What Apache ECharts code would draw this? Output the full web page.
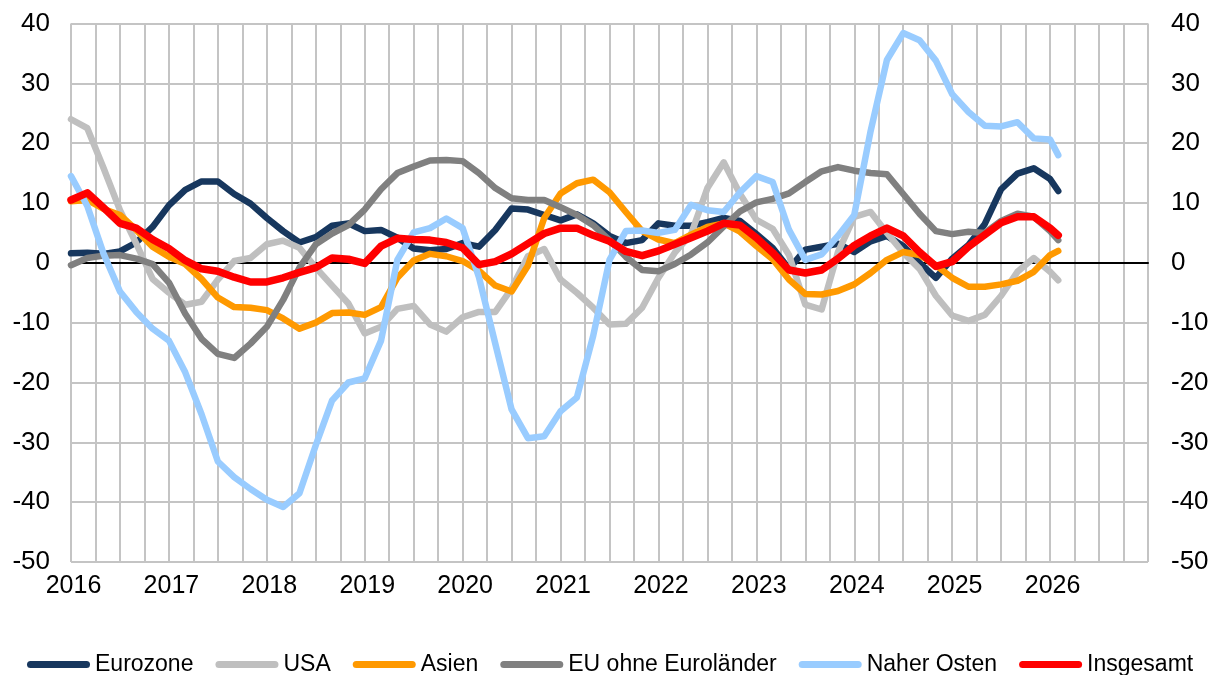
<!DOCTYPE html>
<html>
<head>
<meta charset="utf-8">
<script src="https://cdn.jsdelivr.net/npm/echarts@6/dist/echarts.min.js"></script>
<style>
html,body{margin:0;padding:0;background:#fff;}
#chart{width:1223px;height:675px;}
</style>
</head>
<body>
<div id="chart"></div>
<script>
// month index since Jan 2016
const months = [0,2,4,6,8,10,12,14,16,18,20,22,24,26,28,30,32,34,36,38,40,42,44,46,48,50,52,54,56,58,60,62,64,66,68,70,72,74,76,78,80,82,84,86,88,90,92,94,96,98,100,102,104,106,108,110,112,114,116,118,120,121];
const yearLabels = ['2016','2017','2018','2019','2020','2021','2022','2023','2024','2025','2026'];
const seriesNames = ['Eurozone','USA','Asien','EU ohne Euroländer','Naher Osten','Insgesamt'];

const eurozone = [1.6,1.7,1.5,1.9,3.4,6.0,9.6,12.2,13.6,13.6, 11.5,9.9,7.5,5.3,3.4,4.3,6.2,6.6,5.3,5.5, 4.2,2.4,2.1,2.3,3.3,2.7,5.5,9.1,8.9,8.0, 7.1,8.1,6.6,4.5,3.3,3.8,6.6,6.2,6.2,6.8, 7.5,7.0,4.8,2.5,-1.0,2.2,2.7,3.2,1.8,3.6, 4.5,2.8,0.0,-2.5,0.7,3.0,6.5,12.3,14.9,15.8, 14.0,12.0];
const usa = [24.0,22.5,15.8,8.8,3.2,-2.7,-5.0,-7.0,-6.5,-2.8, 0.3,0.8,3.1,3.7,2.5,-0.8,-3.8,-6.8,-11.8,-10.7, -7.7,-7.2,-10.3,-11.5,-9.1,-8.2,-8.2,-4.3,1.1,2.3, -2.8,-5.0,-7.5,-10.3,-10.2,-7.5,-2.5,1.7,4.8,12.5, 16.8,11.5,7.2,5.7,1.3,-7.0,-7.8,1.8,7.7,8.5, 5.0,1.7,-1.0,-5.5,-8.8,-9.7,-8.7,-5.5,-1.5,0.8, -1.5,-2.9];
const asien = [10.3,10.5,9.0,8.0,5.5,2.7,1.0,-0.2,-2.7,-5.8, -7.4,-7.5,-7.9,-9.3,-11.0,-10.0,-8.4,-8.3,-8.7,-7.4, -2.5,0.4,1.5,1.1,0.3,-1.3,-3.8,-4.8,-0.5,7.5, 11.6,13.3,13.9,11.8,8.5,5.3,3.9,3.3,4.7,6.0, 6.6,5.2,2.8,0.6,-2.8,-5.2,-5.3,-4.7,-3.6,-1.7, 0.5,1.8,1.3,-0.4,-2.5,-4.0,-4.0,-3.6,-3.0,-1.5, 1.3,2.0];
const euOhne = [-0.4,0.8,1.2,1.3,0.7,-0.2,-3.3,-8.5,-12.7,-15.2, -15.9,-13.5,-10.7,-6.2,-0.8,3.1,4.9,6.3,8.9,12.3, 15.0,16.1,17.1,17.2,17.0,15.0,12.5,10.8,10.5,10.5, 9.3,8.0,6.3,3.8,1.0,-1.2,-1.4,-0.2,1.4,3.4, 6.1,8.6,10.1,10.7,11.6,13.5,15.3,16.0,15.4,15.0, 14.8,11.5,8.2,5.3,4.8,5.2,5.0,7.0,8.2,7.7, 5.3,3.8];
const naherOsten = [14.5,9.5,1.5,-4.8,-8.2,-11.0,-13.0,-18.3,-25.3,-33.2, -35.8,-37.8,-39.6,-40.8,-38.5,-30.5,-23.0,-20.0,-19.3,-13.0, 0.5,5.1,5.8,7.4,5.8,-2.4,-13.5,-24.5,-29.3,-29.0, -24.8,-22.5,-12.2,0.5,5.3,5.4,5.0,5.5,9.7,8.8, 8.5,11.8,14.5,13.5,5.5,0.5,1.4,4.5,8.0,22.0, 33.9,38.4,37.2,33.8,28.2,25.2,22.9,22.8,23.5,20.8, 20.6,18.0];
const insgesamt = [10.5,11.7,9.2,6.6,5.8,3.9,2.4,0.4,-1.0,-1.4, -2.4,-3.2,-3.2,-2.5,-1.6,-0.8,0.8,0.6,-0.1,2.8, 4.1,3.9,3.8,3.4,2.5,-0.3,0.2,1.5,3.2,4.9, 5.8,5.8,4.6,3.6,1.9,1.2,2.0,3.1,4.2,5.3, 6.6,6.3,4.2,1.7,-1.2,-1.7,-1.2,0.7,2.9,4.5, 5.8,4.5,1.8,-0.6,0.2,2.7,4.7,6.7,7.7,7.7, 5.8,4.6];

const seriesValues = [eurozone, usa, asien, euOhne, naherOsten, insgesamt];
const colors = ['#17375E','#BFBFBF','#FF9900','#808080','#99CCFF','#FF0000'];

const FONT = '"Liberation Sans", Arial, sans-serif';
const gridColor = '#C4C4C4';

const chart = echarts.init(document.getElementById('chart'), null, {renderer:'canvas'});

const series = seriesNames.map((name, i) => ({
  name: name,
  type: 'line',
  xAxisIndex: 0,
  yAxisIndex: 0,
  data: months.map((m, k) => [m, seriesValues[i][k]]),
  showSymbol: false,
  symbol: 'none',
  smooth: false,
  color: colors[i],
  lineStyle: { width: i === 5 ? 7.5 : 6.5, color: colors[i], cap: 'round', join: 'round' },
  z: 3 + i,
  animation: false
}));

const option = {
  animation: false,
  backgroundColor: '#ffffff',
  textStyle: { fontFamily: FONT },
  grid: { left: 71, right: 75, top: 23.5, bottom: 113, containLabel: false },
  xAxis: [
    {
      type: 'value', min: 0, max: 132, interval: 3,
      axisLine: { show: false, onZero: false },
      axisTick: { show: false },
      splitLine: { show: true, lineStyle: { color: gridColor, width: 2 } },
      axisLabel: {
        fontSize: 25, color: '#000', fontFamily: FONT, margin: 12, padding: [0, 0, 0, 5],
        formatter: function (v) {
          if (v % 12 === 0) { const idx = v / 12; return yearLabels[idx] !== undefined ? yearLabels[idx] : ''; }
          return '';
        }
      }
    },
    {
      type: 'value', min: 0, max: 132, position: 'bottom',
      axisLine: { show: true, onZero: true, lineStyle: { color: '#000', width: 2 } },
      axisTick: { show: false },
      axisLabel: { show: false },
      splitLine: { show: false }
    }
  ],
  yAxis: [
    {
      type: 'value', min: -50, max: 40, interval: 10, position: 'left',
      axisLine: { show: false, onZero: false },
      axisTick: { show: false },
      splitLine: { show: true, lineStyle: { color: gridColor, width: 2 } },
      axisLabel: { fontSize: 26, color: '#000', fontFamily: FONT, margin: 21 }
    },
    {
      type: 'value', min: -50, max: 40, interval: 10, position: 'right',
      axisLine: { show: false, onZero: false },
      axisTick: { show: false },
      splitLine: { show: false },
      axisLabel: { fontSize: 26, color: '#000', fontFamily: FONT, margin: 23 }
    }
  ],
  legend: {
    data: seriesNames,
    left: 22, top: 648,
    itemWidth: 63, itemHeight: 7, itemGap: 22,
    icon: 'path://M3.5,0 L59.5,0 A3.5,3.5 0 0 1 59.5,7 L3.5,7 A3.5,3.5 0 0 1 3.5,0 Z',
    textStyle: { fontSize: 23, color: '#000', fontFamily: FONT },
    selectedMode: false
  },
  series: series
};
chart.setOption(option);
</script>
</body>
</html>
